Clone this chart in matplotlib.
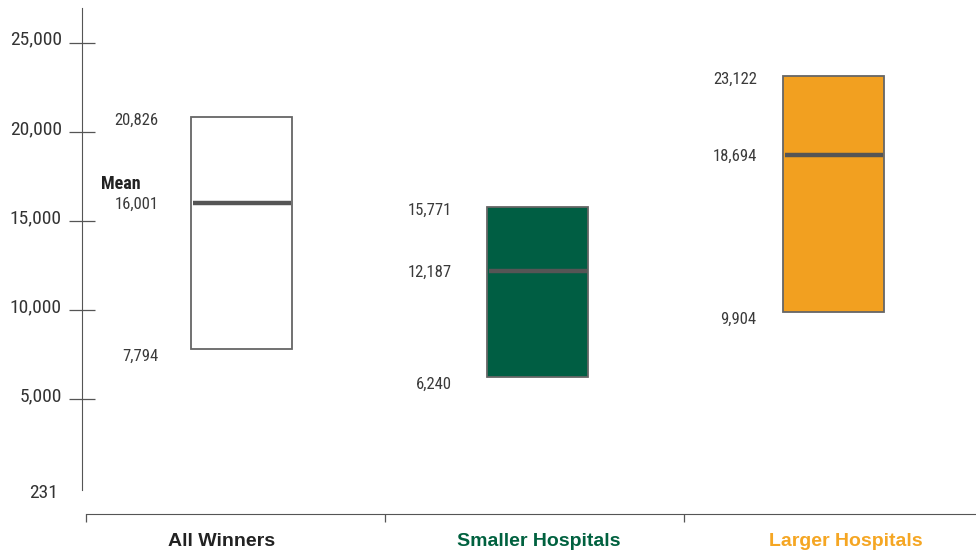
import matplotlib
matplotlib.use("Agg")
import matplotlib.pyplot as plt
import matplotlib.transforms as mtransforms
from matplotlib import font_manager
from matplotlib.patches import Rectangle

# prefer a narrow sans face if one is around
installed = {f.name for f in font_manager.fontManager.ttflist}
narrow = [n for n in ["Liberation Sans Narrow", "Roboto Condensed", "DejaVu Sans Condensed",
                      "Open Sans Condensed", "Noto Sans Display", "Roboto"] if n in installed]
plt.rcParams['font.family'] = narrow[:1] + ['DejaVu Sans']

categories = ["All Winners", "Smaller Hospitals", "Larger Hospitals"]
low = [7794, 6240, 9904]
mean = [16001, 12187, 18694]
high = [20826, 15771, 23122]

face_colors = ["white", "#005e43", "#f2a020"]
label_colors = ["#222222", "#00613f", "#f5a623"]

y_ticks = [5000, 10000, 15000, 20000, 25000]
y_min_label = 231

fig = plt.figure(figsize=(9.76, 5.57), dpi=100)
ax = fig.add_axes([0.084, 0.12, 0.916, 0.866])

box_w = 0.341
for i in range(len(categories)):
    rect = Rectangle((i - box_w / 2, low[i]), box_w, high[i] - low[i],
                     facecolor=face_colors[i], edgecolor="#666666", linewidth=1.3, zorder=2)
    ax.add_patch(rect)
    ax.plot([i - box_w / 2 + 0.005, i + box_w / 2 - 0.005], [mean[i], mean[i]],
            color="#555555", linewidth=3.2, solid_capstyle="butt", zorder=3)

# value labels to the left of each box
label_x = [-0.28, 0.71, 1.74]
for i in range(len(categories)):
    for v, dy in ((high[i], -150), (mean[i], -50), (low[i], -400)):
        ax.text(label_x[i], v + dy, f"{v:,}", ha="right", va="center",
                fontsize=12, color="#3a3a3a")

ax.text(-0.34, mean[0] + 1050, "Mean", ha="right", va="center",
        fontsize=13, fontweight="bold", color="#222222")

ax.set_xlim(-0.539, 2.481)
ax.set_ylim(-112, 26966)

# y axis
ax.set_yticks(y_ticks)
ax.set_yticklabels([f"{t:,}" for t in y_ticks], fontsize=14, color="#333333")
ax.tick_params(axis="y", direction="inout", length=19, width=0.9, color="#555555", pad=5)
lift = mtransforms.ScaledTranslation(0, 3 / 100, fig.dpi_scale_trans)
for lab in ax.get_yticklabels():
    lab.set_verticalalignment("center")
    lab.set_transform(lab.get_transform() + lift)
ax.text(-0.62, y_min_label, f"{y_min_label}", ha="right", va="top",
        fontsize=14, color="#333333")

# x axis sits below the plot area
ax.spines["bottom"].set_position(("outward", 17))
ax.spines["bottom"].set_bounds(-0.525, 2.481)
ax.spines["bottom"].set_color("#555555")
ax.spines["left"].set_color("#555555")
ax.spines["top"].set_visible(False)
ax.spines["right"].set_visible(False)
ax.set_xticks([-0.525, 0.485, 1.495])
ax.set_xticklabels([])
ax.tick_params(axis="x", direction="out", length=6, width=0.9, color="#555555")

trans = mtransforms.blended_transform_factory(ax.transData, fig.transFigure)
name_x = [-0.069, 1.005, 2.042]
for i, name in enumerate(categories):
    fig.text(name_x[i], 1 - 541 / 557, name, transform=trans, ha="center", va="center",
             fontsize=14, fontweight="bold", color=label_colors[i],
             family=["Liberation Sans", "DejaVu Sans"])

fig.savefig("out.png", dpi=100)
